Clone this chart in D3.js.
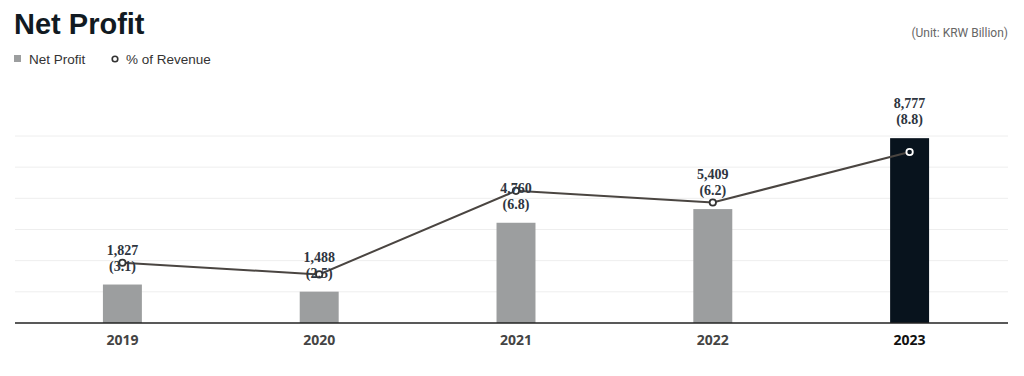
<!DOCTYPE html>
<html><head><meta charset="utf-8">
<script src="https://cdn.jsdelivr.net/npm/d3@7"></script>
<style>body{margin:0;background:#fff;}svg{display:block;}</style>
</head><body>
<svg id="c" width="1024" height="376"></svg>
<script>
const years = ["2019","2020","2021","2022","2023"];
const netProfit = [1827, 1488, 4760, 5409, 8777];
const pctRevenue = [3.1, 2.5, 6.8, 6.2, 8.8];
const gridTicks = [1480, 2960, 4440, 5920, 7400, 8880];

const svg = d3.select("#c");
const baseY = 323, left = 15, right = 1008;
const x = d3.scaleBand().domain(years).range([24, 1008]);
const y = d3.scaleLinear().domain([0, 8880]).range([baseY, 136]);
const y2 = d3.scaleLinear().domain([0, 8.8]).range([baseY, 152]);
const barW = x.bandwidth() * 0.198;
const cx = d => x(d) + x.bandwidth() / 2;

// title
svg.append("text").attr("x", 14).attr("y", 34).text("Net Profit")
  .attr("font-family", "'Liberation Sans', Arial, sans-serif").attr("font-weight", 700)
  .attr("font-size", 29).attr("fill", "#111a22");
svg.append("text").attr("x", 1008).attr("y", 37).attr("text-anchor", "end")
  .text("(Unit: KRW Billion)").attr("font-family", "Roboto, 'Noto Sans', sans-serif")
  .attr("font-size", 12).attr("fill", "#666");

// legend
const legFont = "'Liberation Sans', Arial, sans-serif";
svg.append("rect").attr("x", 14).attr("y", 55).attr("width", 7).attr("height", 7).attr("fill", "#9c9e9f");
svg.append("text").attr("x", 29).attr("y", 63.5).text("Net Profit")
  .attr("font-family", legFont).attr("font-size", 13.5).attr("fill", "#333");
svg.append("circle").attr("cx", 115).attr("cy", 59).attr("r", 2.8).attr("fill", "#fff")
  .attr("stroke", "#333").attr("stroke-width", 1.6);
svg.append("text").attr("x", 126).attr("y", 63.5).text("% of Revenue")
  .attr("font-family", legFont).attr("font-size", 13.5).attr("fill", "#333");

// grid
svg.append("g").selectAll("line").data(gridTicks).join("line")
  .attr("x1", left).attr("x2", right).attr("y1", d => y(d)).attr("y2", d => y(d))
  .attr("stroke", "#eeeeee").attr("stroke-width", 1);

// bars
svg.append("g").selectAll("rect").data(years).join("rect")
  .attr("x", d => cx(d) - barW / 2).attr("width", barW)
  .attr("y", (d, i) => y(netProfit[i])).attr("height", (d, i) => baseY - y(netProfit[i]))
  .attr("fill", (d, i) => i === years.length - 1 ? "#08131d" : "#9c9e9f");

// baseline axis
const xAxis = d3.axisBottom(x).tickSize(0).tickPadding(10);
const ax = svg.append("g").attr("transform", `translate(0,${baseY})`).call(xAxis);
ax.select(".domain").remove();
svg.append("line").attr("x1", left).attr("x2", right).attr("y1", baseY).attr("y2", baseY)
  .attr("stroke", "#222").attr("stroke-width", 1.6);
ax.selectAll("text").attr("font-family", "'Open Sans', 'Noto Sans', sans-serif")
  .attr("font-size", 14).attr("font-weight", 700)
  .attr("fill", (d, i) => i === years.length - 1 ? "#111" : "#444")
  .attr("dy", "0.85em");

// line
const line = d3.line().x((d, i) => cx(years[i])).y(d => y2(d));
svg.append("path").datum(pctRevenue).attr("d", line).attr("fill", "none")
  .attr("stroke", "#4a4541").attr("stroke-width", 2);
svg.append("g").selectAll("circle").data(pctRevenue).join("circle")
  .attr("cx", (d, i) => cx(years[i])).attr("cy", d => y2(d)).attr("r", 3.2)
  .attr("fill", (d, i) => i === years.length - 1 ? "#08131d" : "#fff")
  .attr("stroke", (d, i) => i === years.length - 1 ? "#fff" : "#333")
  .attr("stroke-width", 1.8);

// labels
const lg = svg.append("g").attr("font-family", "'Liberation Serif', 'DejaVu Serif', serif")
  .attr("font-weight", 700).attr("font-size", 14).attr("fill", "#2e3540").attr("text-anchor", "middle");
lg.selectAll("text.v").data(netProfit).join("text").attr("class", "v")
  .attr("x", (d, i) => cx(years[i])).attr("y", d => y(d) - 30)
  .text(d => d3.format(",")(d));
lg.selectAll("text.p").data(pctRevenue).join("text").attr("class", "p")
  .attr("x", (d, i) => cx(years[i])).attr("y", (d, i) => y(netProfit[i]) - 14)
  .text(d => `(${d3.format(".1f")(d)})`);
</script>
</body></html>
